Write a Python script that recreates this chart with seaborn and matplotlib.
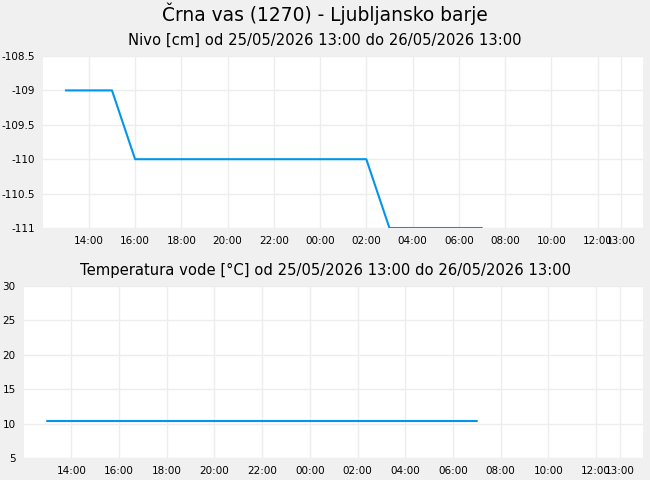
import pandas as pd
import matplotlib
matplotlib.use("Agg")
import matplotlib.pyplot as plt
import matplotlib.dates as mdates
import matplotlib.ticker as mticker
import seaborn as sns

# podatki
postaja = "Črna vas (1270) - Ljubljansko barje"
nivo_naslov = "Nivo [cm] od 25/05/2026 13:00 do 26/05/2026 13:00"
temp_naslov = "Temperatura vode [°C] od 25/05/2026 13:00 do 26/05/2026 13:00"

nivo_cas = ["2026-05-25 13:00", "2026-05-25 15:00", "2026-05-25 16:00",
            "2026-05-26 02:00", "2026-05-26 03:00", "2026-05-26 07:00"]
nivo_cm = [-109, -109, -110, -110, -111, -111]

temp_cas = ["2026-05-25 13:00", "2026-05-26 07:00"]
temp_c = [10.4, 10.4]

x_oznake = ["2026-05-25 14:00", "2026-05-25 16:00", "2026-05-25 18:00", "2026-05-25 20:00",
            "2026-05-25 22:00", "2026-05-26 00:00", "2026-05-26 02:00", "2026-05-26 04:00",
            "2026-05-26 06:00", "2026-05-26 08:00", "2026-05-26 10:00", "2026-05-26 12:00",
            "2026-05-26 13:00"]
nivo_y = [-111, -110.5, -110, -109.5, -109, -108.5]
temp_y = [5, 10, 15, 20, 25, 30]

df_nivo = pd.DataFrame({"cas": pd.to_datetime(nivo_cas), "vrednost": nivo_cm})
df_temp = pd.DataFrame({"cas": pd.to_datetime(temp_cas), "vrednost": temp_c})
ticks = pd.to_datetime(x_oznake)

sns.set_style("white")
plt.rcParams["font.family"] = ["DejaVu Sans"]
plt.rcParams["text.color"] = "black"
plt.rcParams["xtick.color"] = "black"
plt.rcParams["ytick.color"] = "black"

barva = "#0096ea"
ozadje = "#f0f0f0"

fig = plt.figure(figsize=(6.5, 4.8), dpi=100, facecolor=ozadje)
ax1 = fig.add_axes([43 / 650, 1 - 228 / 480, 600 / 650, 172 / 480])
ax2 = fig.add_axes([24 / 650, 1 - 458 / 480, 619 / 650, 172 / 480])

fig.text(0.5, 1 - 14 / 480, postaja, ha="center", va="center", fontsize=13.4)
fig.text(0.5, 1 - 40 / 480, nivo_naslov, ha="center", va="center", fontsize=10.6)
fig.text(0.5, 1 - 270 / 480, temp_naslov, ha="center", va="center", fontsize=10.6)

for ax, df, yt in [(ax1, df_nivo, nivo_y), (ax2, df_temp, temp_y)]:
    sns.lineplot(data=df, x="cas", y="vrednost", ax=ax, color=barva, linewidth=1.5)
    ax.set_facecolor("white")
    ax.set_xlim(pd.Timestamp("2026-05-25 12:01"), pd.Timestamp("2026-05-26 13:58"))
    ax.set_ylim(yt[0], yt[-1])
    ax.set_xticks(ticks)
    ax.set_yticks(yt)
    ax.xaxis.set_major_formatter(mdates.DateFormatter("%H:%M"))
    ax.yaxis.set_major_formatter(mticker.FuncFormatter(lambda v, p: f"{v:g}"))
    ax.grid(True, color="#ededed", linewidth=1)
    ax.tick_params(length=0, labelsize=7.5, pad=6)
    ax.set_xlabel("")
    ax.set_ylabel("")
    for s in ax.spines.values():
        s.set_visible(False)

fig.savefig("out.png", dpi=100, facecolor=ozadje)
